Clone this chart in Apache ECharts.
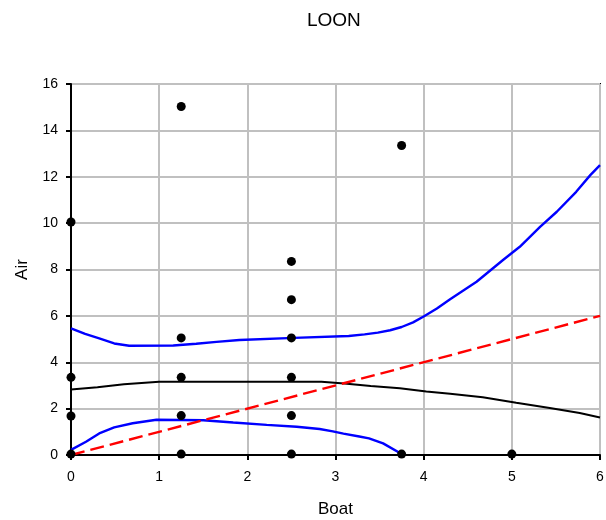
<!DOCTYPE html>
<html>
<head>
<meta charset="utf-8">
<script src="https://cdn.jsdelivr.net/npm/echarts@6/dist/echarts.min.js"></script>
<style>html,body{margin:0;padding:0;background:#fff;}#c{width:606px;height:520px;}</style>
</head>
<body>
<div id="c"></div>
<script>
var boatObs = [0, 0, 0, 0, 1.25, 1.25, 1.25, 1.25, 1.25, 2.5, 2.5, 2.5, 2.5, 2.5, 2.5, 3.75, 3.75, 5];
var airObs  = [10.05, 3.35, 1.68, 0.04, 15.03, 5.05, 3.35, 1.7, 0.04, 8.35, 6.7, 5.05, 3.35, 1.7, 0.04, 13.35, 0.04, 0.04];

var fitX = [0, 0.3, 0.6, 1.0, 2.84, 3.1, 3.4, 3.73, 4.03, 4.3, 4.67, 5.05, 5.43, 5.77, 6.0];
var fitY = [2.83, 2.92, 3.05, 3.16, 3.16, 3.08, 2.98, 2.88, 2.74, 2.64, 2.49, 2.25, 2.03, 1.81, 1.62];

var upX = [0, 0.16, 0.32, 0.49, 0.66, 1.16, 1.42, 1.65, 1.91, 2.53, 3.15, 3.33, 3.48, 3.62, 3.75, 3.88, 4.0, 4.15, 4.3, 4.6, 4.9, 5.09, 5.32, 5.51, 5.73, 5.89, 6.0];
var upY = [5.46, 5.22, 5.03, 4.81, 4.71, 4.72, 4.8, 4.88, 4.96, 5.05, 5.13, 5.2, 5.28, 5.38, 5.52, 5.72, 5.97, 6.32, 6.72, 7.47, 8.41, 8.98, 9.84, 10.49, 11.35, 12.07, 12.5];

var loX = [0, 0.17, 0.32, 0.49, 0.7, 0.97, 1.5, 1.84, 2.22, 2.56, 2.82, 2.97, 3.09, 3.27, 3.38, 3.54, 3.77];
var loY = [0.22, 0.57, 0.93, 1.19, 1.37, 1.52, 1.5, 1.4, 1.3, 1.22, 1.12, 1.02, 0.92, 0.8, 0.72, 0.5, 0.0];

var idX = [0, 6];
var idY = [0, 6];

var xTicks = [0, 1, 2, 3, 4, 5, 6];
var yTicks = [0, 2, 4, 6, 8, 10, 12, 14, 16];

function pairs(xs, ys) { return xs.map(function (x, i) { return [x, ys[i]]; }); }

var FONT = 'Liberation Sans, Arial, sans-serif';
var chart = echarts.init(document.getElementById('c'), null, {renderer: 'canvas'});
chart.setOption({
  animation: false,
  backgroundColor: '#fff',
  title: {
    text: 'LOON', left: 302, top: 6,
    textStyle: {fontFamily: FONT, fontSize: 19, fontWeight: 'normal', color: '#000'}
  },
  grid: {left: 71, right: 6, top: 84, bottom: 65, show: true, borderColor: '#000', borderWidth: 2,
         backgroundColor: 'transparent', containLabel: false, outerBoundsMode: 'none'},
  xAxis: {
    type: 'value', min: xTicks[0], max: xTicks[xTicks.length - 1], interval: 1,
    name: 'Boat', nameLocation: 'middle', nameGap: 46,
    nameTextStyle: {fontFamily: FONT, fontSize: 17, color: '#000'},
    axisLine: {lineStyle: {color: '#000', width: 2}},
    axisTick: {show: true, length: 5, lineStyle: {color: '#000', width: 2}},
    axisLabel: {fontFamily: FONT, fontSize: 14, color: '#000', margin: 15},
    splitLine: {show: true, lineStyle: {color: '#c0c0c0', width: 2}}
  },
  yAxis: {
    type: 'value', min: yTicks[0], max: yTicks[yTicks.length - 1], interval: 2,
    name: 'Air', nameLocation: 'middle', nameGap: 40,
    nameTextStyle: {fontFamily: FONT, fontSize: 17, color: '#000'},
    axisLine: {lineStyle: {color: '#000', width: 2}},
    axisTick: {show: true, length: 5, lineStyle: {color: '#000', width: 2}},
    axisLabel: {fontFamily: FONT, fontSize: 14, color: '#000', margin: 13},
    splitLine: {show: true, lineStyle: {color: '#c0c0c0', width: 2}}
  },
  series: [
    {type: 'line', data: pairs(upX, upY), symbol: 'none', lineStyle: {color: '#0000ff', width: 2.4}, z: 3},
    {type: 'line', data: pairs(loX, loY), symbol: 'none', lineStyle: {color: '#0000ff', width: 2.4}, z: 3},
    {type: 'line', data: pairs(fitX, fitY), symbol: 'none', lineStyle: {color: '#000', width: 2}, z: 3},
    {type: 'line', data: pairs(idX, idY), symbol: 'none', lineStyle: {color: '#ff0000', width: 2.4, type: [14, 6]}, z: 3},
    {type: 'scatter', data: pairs(boatObs, airObs), symbol: 'circle', symbolSize: 9, clip: false,
     itemStyle: {color: '#000', opacity: 1}, z: 5}
  ]
});
</script>
</body>
</html>
